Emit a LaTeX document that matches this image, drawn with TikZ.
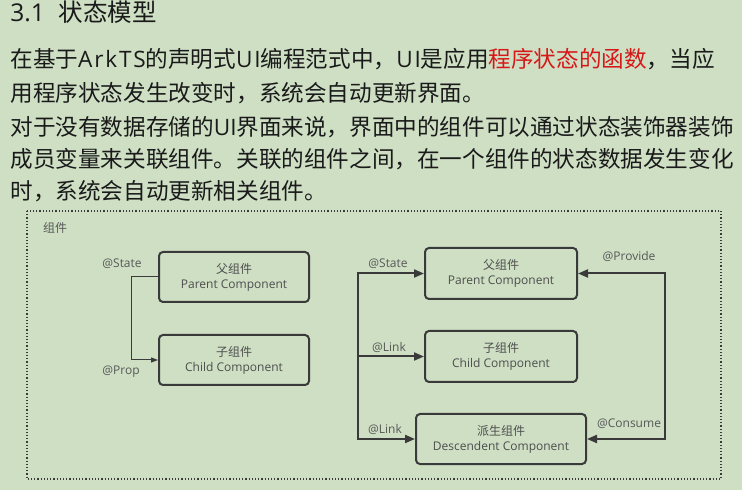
\documentclass[tikz,border=0pt]{standalone}
\usepackage{fontspec}
\setmainfont{Noto Sans CJK SC}
\newfontfamily\lat{Open Sans}
\newfontfamily\latwide{Open Sans}[LetterSpace=8]
\usepackage{tikz}
\usetikzlibrary{arrows.meta}
\definecolor{pagegreen}{RGB}{206,223,196}
\definecolor{inkdark}{RGB}{26,26,26}
\definecolor{fnred}{RGB}{214,24,24}
\definecolor{boxgray}{RGB}{58,58,58}
\definecolor{labelgray}{RGB}{88,88,88}

\begin{document}
\begin{tikzpicture}[x=0.5pt, y=-0.5pt, >={Triangle[length=5pt, width=4pt]},
  para/.style={anchor=base west, inner sep=0pt, text=inkdark,
               font=\fontsize{11.3}{13}\selectfont},
  comp/.style={draw=boxgray, line width=1pt, rounded corners=2pt, align=center,
               minimum width=75pt, minimum height=25pt, inner sep=0pt,
               text=boxgray!90, font=\fontsize{6}{7.5}\selectfont},
  tag/.style={text=labelgray, inner sep=0pt, font=\fontsize{6}{7}\selectfont\lat},
  link/.style={draw=boxgray, line width=1pt},
  thinlink/.style={draw=boxgray, line width=0.5pt, >={Triangle[length=3.5pt, width=2.5pt]}},
  frame/.style={draw=boxgray, line width=0.6pt, dash pattern=on 0.6pt off 1pt}]

\fill[pagegreen] (0,0) rectangle (742,490);
\useasboundingbox (0,0) rectangle (742,490);

\node[anchor=base west, inner sep=0pt, text=inkdark, font=\fontsize{12.25}{14}\selectfont]
  (title) at (10,22) {{\lat 3.1}\hspace{7pt}状态模型};

\node[para] (l1) at (10,68) {在基于{\latwide ArkTS}的声明式{\latwide UI}编程范式中，{\latwide UI}是应用{\color{fnred}程序状态的函数}，当应};
\node[para] (l2) at (10,102) {用程序状态发生改变时，系统会自动更新界面。};
\node[para] (l3) at (10,136) {对于没有数据存储的{\lat UI}界面来说，界面中的组件可以通过状态装饰器装饰};
\node[para] (l4) at (10,168) {成员变量来关联组件。关联的组件之间，在一个组件的状态数据发生变化};
\node[para] (l5) at (10,200) {时，系统会自动更新相关组件。};

\draw[frame] (27,211) rectangle (721,479);
\node[tag, font=\fontsize{6}{7}\selectfont] (grp) at (55,228) {组件};

\begin{scope}
  \node[comp] (pa1) at (234,277) {父组件\\{\lat Parent Component}};
  \node[comp] (ch1) at (234,360) {子组件\\{\lat Child Component}};
  \draw[thinlink,->] (pa1.west) -- ++(-27,0) |- (ch1.west);
  \node[tag] (st1) at (122,264) {@State};
  \node[tag] (pr1) at (121,372) {@Prop};
\end{scope}

\begin{scope}
  \node[comp, minimum width=76pt, minimum height=25.5pt] (pa2) at (501,273.5) {父组件\\{\lat Parent Component}};
  \node[comp, minimum width=76pt, minimum height=25.5pt] (ch2) at (501,356.5) {子组件\\{\lat Child Component}};
  \node[comp, minimum width=85pt] (de2) at (501,439) {派生组件\\{\lat Descendent Component}};
  \coordinate (ltop) at (358,273.5);
  \coordinate (rtop) at (665,273.5);
  \draw[link,<->] (pa2.west) -- (ltop) |- (de2.west);
  \draw[link,->] (ltop |- ch2.west) -- (ch2.west);
  \draw[link,<->] (pa2.east) -- (rtop) |- (de2.east);
  \node[tag] (st2) at (388,264) {@State};
  \node[tag] (lk2) at (389,347) {@Link};
  \node[tag] (lk3) at (385,429) {@Link};
  \node[tag] (pv2) at (629,256) {@Provide};
  \node[tag] (cs2) at (629,424) {@Consume};
\end{scope}

\end{tikzpicture}
\end{document}
